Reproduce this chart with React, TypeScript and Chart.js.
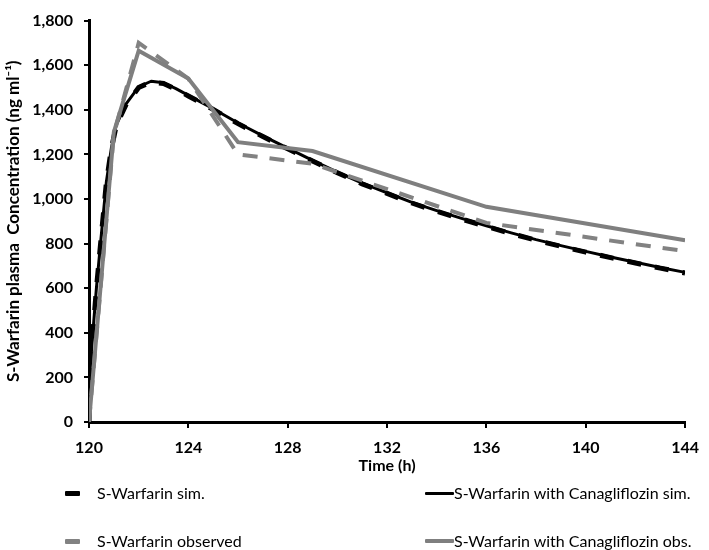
import React, { useEffect, useRef } from 'react';
import { Chart, registerables } from 'chart.js';

Chart.register(...registerables);

// Simulated profiles (time in h, concentration in ng/ml)
const simTimes = [120, 120.1, 120.3, 120.5, 120.7, 120.9, 121.1, 121.5, 122, 122.5, 123, 123.5, 124, 125, 126, 127, 128, 129, 130, 131, 132, 133, 134, 135, 136, 137, 138, 139, 140, 141, 142, 143, 144];
const simValues = [0, 320, 600, 840, 1075, 1225, 1330, 1425, 1500, 1525, 1518, 1492, 1462, 1402, 1338, 1280, 1225, 1170, 1118, 1068, 1025, 982, 945, 910, 877, 845, 815, 788, 762, 737, 713, 690, 668];
const simCanaValues = [0, 322, 603, 843, 1078, 1228, 1333, 1428, 1503, 1528, 1521, 1495, 1465, 1405, 1341, 1283, 1228, 1173, 1121, 1071, 1028, 985, 948, 913, 880, 848, 818, 791, 765, 740, 716, 693, 671];

// Observed profiles
const obsTimes = [120, 121, 122, 124, 126, 129, 136, 144];
const obsValues = [0, 1290, 1700, 1540, 1200, 1158, 893, 766];
const obsCanaValues = [0, 1300, 1665, 1540, 1255, 1215, 965, 815];

const xTicks = { min: 120, max: 144, step: 4 };
const yTicks = { min: 0, max: 1800, step: 200 };

const FONT = "Lato, 'Open Sans', sans-serif";

const toPoints = (xs: number[], ys: number[]) => xs.map((x, i) => ({ x, y: ys[i] }));

export default function App() {
  const ref = useRef<HTMLCanvasElement>(null);

  useEffect(() => {
    document.body.style.margin = '0';
    const canvas = ref.current;
    if (!canvas) return;
    const chart = new Chart(canvas, {
      type: 'line',
      data: {
        datasets: [
          {
            label: 'S-Warfarin with Canagliflozin obs.',
            data: toPoints(obsTimes, obsCanaValues),
            borderColor: '#7f7f7f',
            borderWidth: 4,
            pointRadius: 0,
            tension: 0,
            order: 0,
          },
          {
            label: 'S-Warfarin observed',
            data: toPoints(obsTimes, obsValues),
            borderColor: '#828282',
            borderWidth: 4,
            borderDash: [15, 12],
            pointRadius: 0,
            tension: 0,
            order: 1,
          },
          {
            label: 'S-Warfarin with Canagliflozin sim.',
            data: toPoints(simTimes, simCanaValues),
            borderColor: '#000000',
            borderWidth: 3,
            pointRadius: 0,
            tension: 0,
            borderJoinStyle: 'round',
            order: 2,
          },
          {
            label: 'S-Warfarin sim.',
            data: toPoints(simTimes, simValues),
            borderColor: '#000000',
            borderWidth: 5,
            borderDash: [14, 14],
            pointRadius: 0,
            tension: 0,
            order: 3,
          },
        ],
      },
      options: {
        animation: false,
        responsive: false,
        maintainAspectRatio: false,
        layout: { padding: { top: 12, right: 16, bottom: 75, left: 0 } },
        plugins: { legend: { display: false }, tooltip: { enabled: false } },
        scales: {
          x: {
            type: 'linear',
            min: xTicks.min,
            max: xTicks.max,
            ticks: {
              stepSize: xTicks.step,
              color: '#000',
              padding: 10,
              font: { family: FONT, weight: 'bold', size: 16 },
            },
            grid: { drawOnChartArea: false, drawTicks: true, tickLength: 6, color: '#000', lineWidth: 2 },
            border: { color: '#000', width: 3 },
            title: {
              display: true,
              text: 'Time (h)',
              color: '#000',
              font: { family: FONT, weight: 'bold', size: 16 },
              padding: { top: 0, bottom: 0 },
            },
            afterFit: (s: any) => {
              s.height = 53;
            },
          },
          y: {
            type: 'linear',
            min: yTicks.min,
            max: yTicks.max,
            ticks: {
              stepSize: yTicks.step,
              color: '#000',
              padding: 11,
              font: { family: FONT, weight: 'bold', size: 16 },
            },
            grid: { drawOnChartArea: false, drawTicks: true, tickLength: 5, color: '#000', lineWidth: 2 },
            border: { color: '#000', width: 3 },
            title: {
              display: true,
              text: 'S-Warfarin plasma  Concentration (ng ml\u207B\u00B9)',
              color: '#000',
              font: { family: FONT, weight: 'bold', size: 17 },
              padding: { top: 3, bottom: 0 },
            },
            afterFit: (s: any) => {
              s.width = 89;
            },
          },
        },
      },
    });
    return () => chart.destroy();
  }, []);

  const textStyle: React.CSSProperties = {
    position: 'absolute',
    fontFamily: FONT,
    fontSize: 16,
    lineHeight: '20px',
    color: '#000',
    whiteSpace: 'nowrap',
  };
  const sample = (left: number, top: number, width: number, height: number, color: string): React.CSSProperties => ({
    position: 'absolute',
    left,
    top: top - height / 2,
    width,
    height,
    background: color,
    borderRadius: 1,
  });

  return (
    <div style={{ position: 'relative', width: 709, height: 550, background: '#fff', overflow: 'hidden' }}>
      <canvas ref={ref} width={709} height={550} style={{ display: 'block', width: 709, height: 550 }} />
      <div style={sample(65, 493, 15, 5, '#000')} />
      <div style={{ ...textStyle, left: 97, top: 483 }}>S-Warfarin sim.</div>
      <div style={sample(425, 493, 29, 3, '#000')} />
      <div style={{ ...textStyle, left: 454, top: 483 }}>S-Warfarin with Canagliflozin sim.</div>
      <div style={sample(65, 541, 15, 5, '#828282')} />
      <div style={{ ...textStyle, left: 97, top: 531 }}>S-Warfarin observed</div>
      <div style={sample(425, 541, 29, 4, '#7f7f7f')} />
      <div style={{ ...textStyle, left: 454, top: 531 }}>S-Warfarin with Canagliflozin obs.</div>
    </div>
  );
}
